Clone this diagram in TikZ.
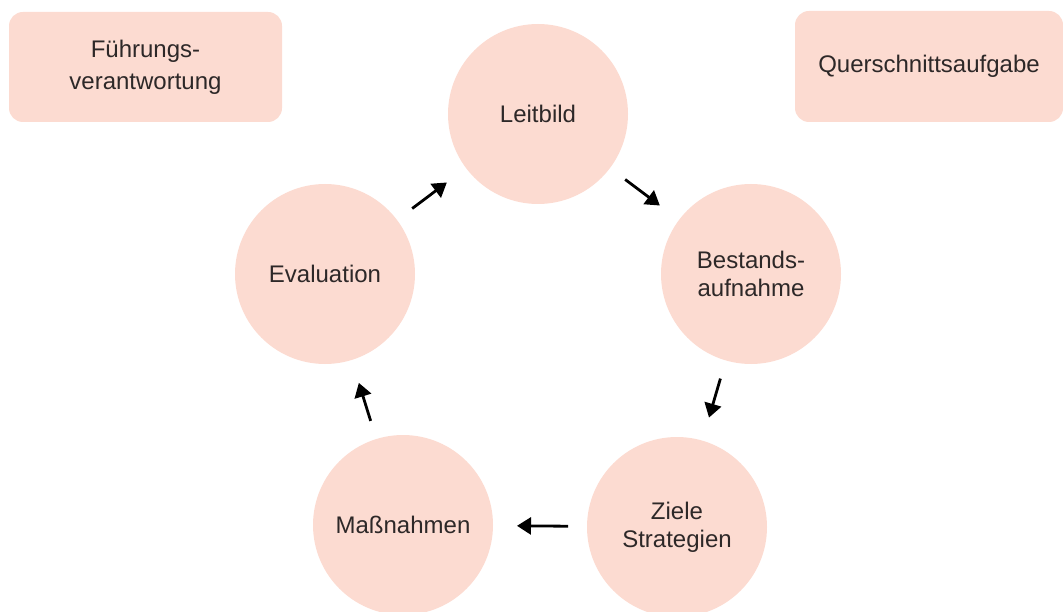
\documentclass[tikz,border=0pt]{standalone}
\usepackage{fontspec}
\setmainfont{Liberation Sans}
\usetikzlibrary{arrows.meta}

\definecolor{peach}{RGB}{252,219,209}
\definecolor{textgray}{RGB}{45,40,40}

\begin{document}
\begin{tikzpicture}[x=1pt,y=-1pt,line cap=round,line join=round,
        kreis/.style={circle,fill=peach,minimum size=180pt,inner sep=0pt,outer sep=0pt,
            align=center,text=textgray,font=\fontsize{24}{28}\selectfont},
        kasten/.style={rectangle,rounded corners=14pt,fill=peach,inner sep=0pt,
            align=center,text=textgray,font=\fontsize{24}{32}\selectfont},
        pfeil/.style={line width=2.8pt,line cap=butt,-{Triangle[length=14pt,width=17pt]},
            shorten <=19pt,shorten >=24pt}]
        % Rahmen
        \useasboundingbox (0,0) rectangle (1063,612);

        % Ecken oben
        \node[kasten,minimum width=273pt,minimum height=110pt] (fuehrung) at (145.5,67) {Führungs-\\verantwortung};
        \node[kasten,minimum width=268pt,minimum height=111pt] (quer) at (929,66.5) {Querschnittsaufgabe};

        % Kreislauf
        \node[kreis] (leitbild) at (538,114) {Leitbild};
        \node[kreis] (bestand) at (751,274) {Bestands-\\aufnahme};
        \node[kreis] (ziele) at (677,527) {Ziele\\Strategien};
        \node[kreis] (massnahmen) at (403,525) {Maßnahmen};
        \node[kreis] (evaluation) at (325,274) {Evaluation};

        % Pfeile zwischen den Kreisen
        \draw[pfeil] (leitbild) -- (bestand);
        \draw[pfeil] (bestand) -- (ziele);
        \draw[pfeil] (ziele) -- (massnahmen);
        \draw[pfeil] (massnahmen) -- (evaluation);
        \draw[pfeil] (evaluation) -- (leitbild);
    \end{tikzpicture}
\end{document}
